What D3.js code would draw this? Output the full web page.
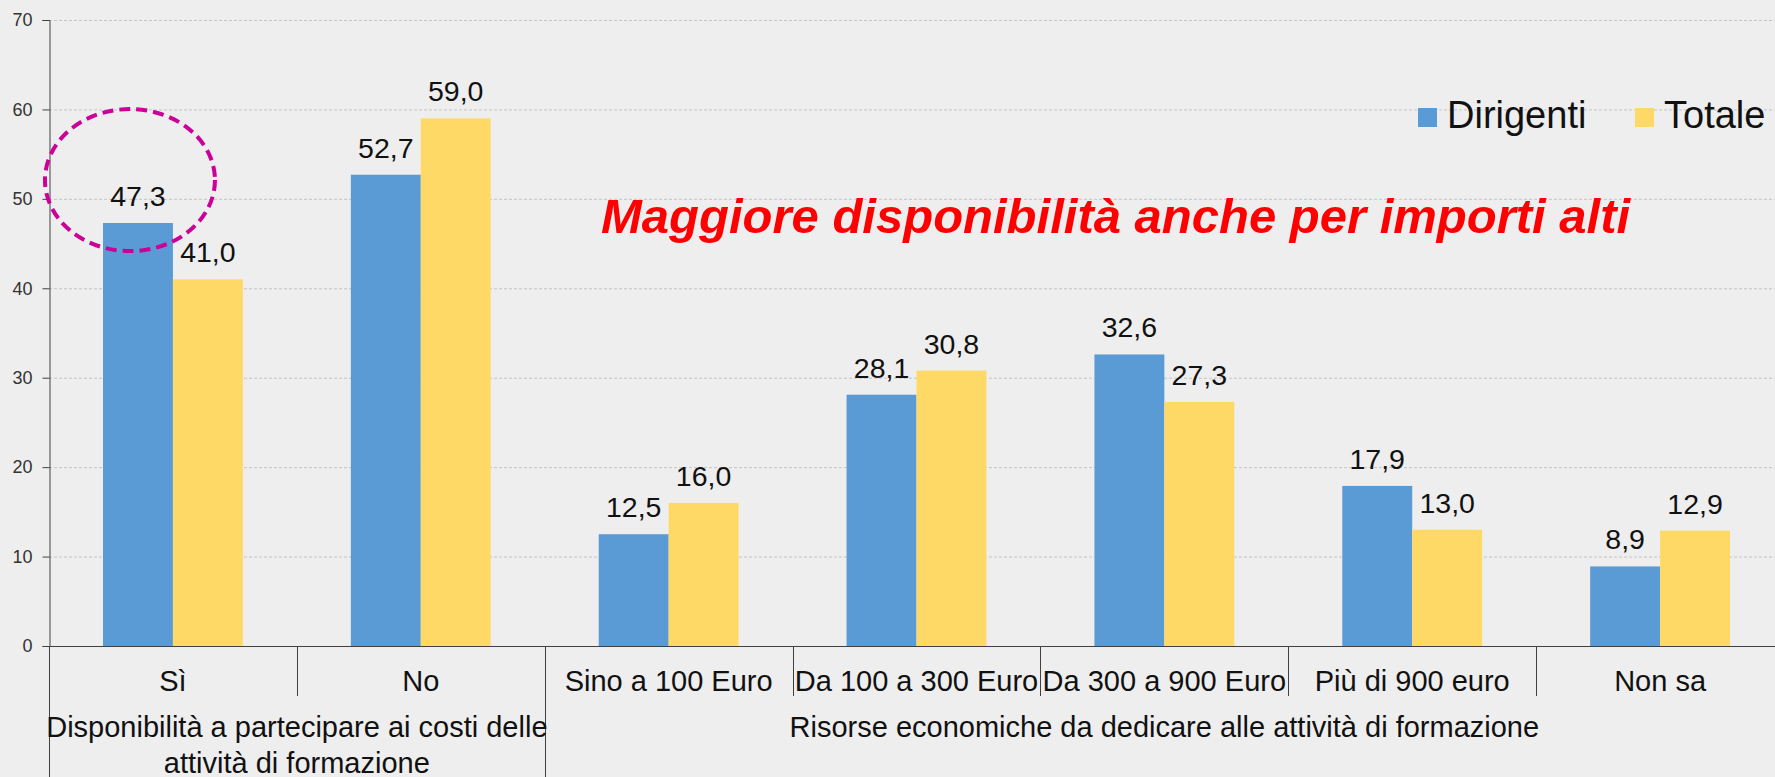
<!DOCTYPE html>
<html>
<head>
<meta charset="utf-8">
<script src="https://cdn.jsdelivr.net/npm/d3@7"></script>
<style>
  body { margin: 0; background: #eeeeee; overflow: hidden; }
  text { font-family: "Liberation Sans", Arial, sans-serif; }
</style>
</head>
<body>
<div class="chart"></div>
<script>
// data
const categories = ["Sì", "No", "Sino a 100 Euro", "Da 100 a 300 Euro", "Da 300 a 900 Euro", "Più di 900 euro", "Non sa"];
const dirigenti = [47.3, 52.7, 12.5, 28.1, 32.6, 17.9, 8.9];
const totale = [41.0, 59.0, 16.0, 30.8, 27.3, 13.0, 12.9];
const seriesNames = ["Dirigenti", "Totale"];
const groups = [
  { lines: ["Disponibilità a partecipare ai costi delle", "attività di formazione"], from: 0, to: 1 },
  { lines: ["Risorse economiche da dedicare alle attività di formazione"], from: 2, to: 6 }
];
const yTicks = [0, 10, 20, 30, 40, 50, 60, 70];
const title = "Maggiore disponibilità anche per importi alti";

// setup chart
const width = 1775;
const height = 777;
const plotLeft = 49;
const plotRight = 1784; // plot runs past the window edge, like the original
const plotTop = 20;
const plotBottom = 646;

const colors = d3.scaleOrdinal().domain(seriesNames).range(["#5b9bd5", "#ffd966"]);
const itFormat = d3.formatLocale({ decimal: ",", thousands: ".", grouping: [3], currency: ["", "€"] }).format(".1f");

const svg = d3.select(".chart").append("svg").attr("width", width).attr("height", height);

const x = d3.scaleBand().domain(categories).range([plotLeft, plotRight]).padding(0);
const xInner = d3.scaleBand().domain(seriesNames).range([54, x.bandwidth() - 54]).padding(0);
const y = d3.scaleLinear().domain([0, 70]).range([plotBottom, plotTop]);

// gridlines
svg.append("g")
  .selectAll("line")
  .data(yTicks.filter((t) => t > 0))
  .enter()
  .append("line")
  .attr("x1", plotLeft)
  .attr("x2", plotRight)
  .attr("y1", (d) => y(d) + 0.5)
  .attr("y2", (d) => y(d) + 0.5)
  .attr("stroke", "#c4c4c4")
  .attr("stroke-width", 1)
  .attr("stroke-dasharray", "3,2");

// y axis
const yAxis = svg.append("g")
  .attr("transform", `translate(${plotLeft + 0.5},0)`)
  .call(d3.axisLeft(y).tickValues(yTicks).tickSize(7).tickPadding(10).tickFormat(d3.format("d")));
yAxis.select(".domain").attr("stroke", "#404040");
yAxis.selectAll(".tick line").attr("stroke", "#404040");
yAxis.selectAll(".tick text")
  .style("font-size", "18px")
  .style("font-family", "Liberation Sans, Arial, sans-serif")
  .attr("fill", "#333");

// bars
const rows = categories.map((c, i) => ({ cat: c, values: [
  { key: "Dirigenti", value: dirigenti[i] },
  { key: "Totale", value: totale[i] }
] }));

const cell = svg.append("g")
  .selectAll("g")
  .data(rows)
  .enter()
  .append("g")
  .attr("transform", (d) => `translate(${x(d.cat)},0)`);

cell.selectAll("rect")
  .data((d) => d.values)
  .enter()
  .append("rect")
  .attr("x", (d) => xInner(d.key))
  .attr("y", (d) => y(d.value))
  .attr("width", xInner.bandwidth())
  .attr("height", (d) => y(0) - y(d.value))
  .attr("fill", (d) => colors(d.key));

cell.selectAll("text")
  .data((d) => d.values)
  .enter()
  .append("text")
  .attr("x", (d) => xInner(d.key) + xInner.bandwidth() / 2)
  .attr("y", (d) => y(d.value) - 17)
  .attr("text-anchor", "middle")
  .attr("font-size", 28.5)
  .attr("fill", "#111")
  .text((d) => itFormat(d.value));

// baseline
svg.append("line")
  .attr("x1", plotLeft)
  .attr("x2", plotRight)
  .attr("y1", y(0) + 0.5)
  .attr("y2", y(0) + 0.5)
  .attr("stroke", "#404040");

// category labels and dividers
svg.append("g")
  .selectAll("text")
  .data(categories)
  .enter()
  .append("text")
  .attr("x", (d) => x(d) + x.bandwidth() / 2)
  .attr("y", plotBottom + 45)
  .attr("text-anchor", "middle")
  .attr("font-size", 29)
  .attr("fill", "#111")
  .text((d) => d);

const groupStarts = groups.map((g) => g.from);
svg.append("g")
  .selectAll("line")
  .data(categories)
  .enter()
  .append("line")
  .attr("x1", (d) => Math.round(x(d)) + 0.5)
  .attr("x2", (d) => Math.round(x(d)) + 0.5)
  .attr("y1", plotBottom)
  .attr("y2", (d, i) => (groupStarts.includes(i) ? height : plotBottom + 50))
  .attr("stroke", "#404040");

// group labels
const groupText = svg.append("g")
  .selectAll("text")
  .data(groups)
  .enter()
  .append("text")
  .attr("text-anchor", "middle")
  .attr("font-size", 29)
  .attr("fill", "#111");

groupText.selectAll("tspan")
  .data((g) => g.lines.map((line, i) => ({ line, i, cx: (x(categories[g.from]) + x(categories[g.to]) + x.bandwidth()) / 2 })))
  .enter()
  .append("tspan")
  .attr("x", (d) => d.cx)
  .attr("y", (d) => plotBottom + 91 + d.i * 36)
  .text((d) => d.line);

// legend
const legend = svg.append("g")
  .selectAll("g")
  .data(seriesNames)
  .enter()
  .append("g")
  .attr("transform", (d, i) => `translate(${1418 + i * 217},108)`);

legend.append("rect").attr("width", 19).attr("height", 19).attr("fill", (d) => colors(d));
legend.append("text")
  .attr("x", 29)
  .attr("y", 20)
  .attr("font-size", 38)
  .attr("fill", "#111")
  .text((d) => d);

// annotation
svg.append("text")
  .attr("x", 601)
  .attr("y", 233)
  .attr("font-size", 49)
  .attr("font-weight", "bold")
  .attr("font-style", "italic")
  .attr("fill", "#ff0000")
  .text(title);

svg.append("ellipse")
  .attr("cx", x(categories[0]) + xInner("Dirigenti") + xInner.bandwidth() / 2 - 8)
  .attr("cy", y(52.1))
  .attr("rx", 85)
  .attr("ry", 71)
  .attr("fill", "none")
  .attr("stroke", "#cc0099")
  .attr("stroke-width", 4)
  .attr("stroke-dasharray", "11,6");
</script>
</body>
</html>
